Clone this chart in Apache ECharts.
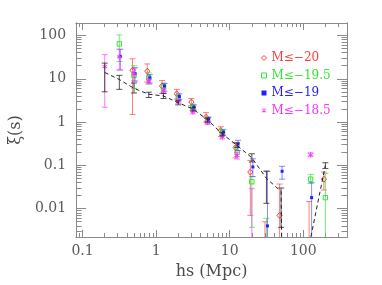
<!DOCTYPE html>
<html><head><meta charset="utf-8">
<script src="https://cdn.jsdelivr.net/npm/echarts@6/dist/echarts.min.js"></script>
<style>html,body{margin:0;padding:0;background:#fff}#c{width:382px;height:285px}</style>
</head><body><div id="c"></div>
<script>
// ---- data ----
const xBins = [0.2, 0.316, 0.5, 0.794, 1.26, 2.0, 3.16, 5.0, 7.94, 12.6, 20.0, 31.6, 50.0, 79.4, 126, 200];

const redVal = [null, null, 15.7, 15, 6.8, 4.5, 2.9, 1.3, 0.64, 0.26, 0.07, 0.0005, 0.007, null, 0.001, 0.048];
const redLo  = [null, null, 1.5, 8.4, 4.6, 3.4, 2.4, 1.0, 0.46, 0.148, 0.007, 0.0005, 0.0005, null, 0.001, 0.027];
const redHi  = [null, null, 29, 22, 9.1, 5.7, 3.5, 1.65, 0.78, 0.33, 0.13, 0.005, 0.037, null, 0.0146, 0.07];

const greenVal = [null, 64, 12, 10.5, 6.5, 3.6, 2.2, 1.1, 0.58, 0.2, 0.042, 0.0005, null, null, 0.048, 0.018];
const greenLo  = [null, 25, 6, 7.4, 5.0, 3.0, 1.9, 0.95, 0.5, 0.16, 0.0037, 0.0005, null, null, 0.038, 0.0005];
const greenHi  = [null, 103, 20, 13.7, 8.0, 4.3, 2.6, 1.3, 0.68, 0.27, 0.055, 0.006, null, null, 0.062, 0.065];

const blueVal = [null, 33, 13.2, 10.5, 6.8, 3.9, 2.2, 1.15, 0.58, 0.31, 0.092, 0.004, 0.073, null, 0.018, null];
const blueLo  = [null, 16, 8.8, 8, 5.2, 3.3, 1.9, 1.0, 0.5, 0.22, 0.055, 0.0005, 0.048, null, 0.0005, null];
const blueHi  = [null, 48, 18, 12.5, 7.8, 4.5, 2.5, 1.3, 0.66, 0.38, 0.142, 0.072, 0.095, null, 0.04, null];

const magVal = [19, 32, 13, 8.8, 5.2, 3.0, 1.72, 0.98, 0.45, 0.17, 0.0005, null, null, null, 0.176, null];
const magLo  = [2.2, 16, 9, 7.8, 4.6, 2.7, 1.55, 0.88, 0.41, 0.14, 0.0005, null, null, null, 0.158, null];
const magHi  = [36, 48, 17, 10, 5.8, 3.4, 1.9, 1.08, 0.5, 0.2, 0.029, null, null, null, 0.195, null];

const allVal = [14, 9.6, 6, 4.4, 4.0, 2.8, 2.0, 1.13, 0.53, 0.29, 0.15, 0.05, 0.025, 1e-30, 0.0021, 0.1];
const allLo  = [5, 5.7, 4.7, 3.7, 3.5, 2.5, 1.8, 1.0, 0.48, 0.26, 0.12, 0.0133, 0.0037, null, null, 0.085];
const allHi  = [23, 12, 8, 4.9, 4.6, 3.1, 2.2, 1.25, 0.58, 0.33, 0.185, 0.074, 0.03, null, null, 0.115];

const legendNames = ['M\u2264\u221220', 'M\u2264\u221219.5', 'M\u2264\u221219', 'M\u2264\u221218.5'];
const xTitle = 'hs (Mpc)';
const yTitle = '\u03BE(s)';

// ---- axis extents (log10 space) ----
const xLogMin = -1.0886, xLogMax = 2.595;
const yLogMin = -2.654, yLogMax = 2.288;

const FONT = 'DejaVu Serif';
const FRAME = '#8a8a8a';

function logTicks(lmin, lmax, major) {
  const out = [];
  for (let n = -4; n <= 3; n++) for (let k = 1; k <= 9; k++) {
    if (major !== (k === 1)) continue;
    const v = n + Math.log10(k);
    if (v >= lmin - 1e-9 && v <= lmax + 1e-9) out.push(v);
  }
  return out;
}
function fmtPow(v) {
  const r = Math.round(v);
  return r < 0 ? Math.pow(10, r).toFixed(-r) : String(Math.pow(10, r));
}
function overlay(pos, lmin, lmax, major, len, labels, extra) {
  const ax = {
    type: 'value', min: lmin, max: lmax, position: pos, gridIndex: 0, offset: 0,
    axisLine: { show: true, onZero: false, lineStyle: { color: FRAME, width: 1 } },
    axisTick: { show: true, inside: true, length: len, customValues: logTicks(lmin, lmax, major),
                lineStyle: { color: FRAME, width: 1 } },
    axisLabel: labels ? { show: true, customValues: logTicks(lmin, lmax, true), formatter: fmtPow,
                fontFamily: FONT, fontSize: 14, color: '#5a5a5a', margin: pos === 'left' ? 10 : 7 } : { show: false },
    splitLine: { show: false }, minorTick: { show: false }
  };
  return Object.assign(ax, extra || {});
}

function rows(val, lo, hi) {
  const d = [];
  xBins.forEach((x, i) => {
    if (val[i] == null) return;
    d.push([x, val[i], lo[i] == null ? val[i] : lo[i], hi[i] == null ? val[i] : hi[i]]);
  });
  return d;
}

function makeRender(marker, markColor, barColor, dx, capW) {
  return function (params, api) {
    const cs = params.coordSys;
    const top = cs.y, bot = cs.y + cs.height;
    const x = api.value(0);
    const p = api.coord([x, api.value(1)]);
    const yLo = api.coord([x, api.value(2)])[1];
    const yHi = api.coord([x, api.value(3)])[1];
    const px = p[0] + dx, py = p[1];
    const ch = [];
    const cl = y => Math.max(top, Math.min(bot, y));
    const ls = { stroke: barColor, lineWidth: 1 };
    if (yHi < bot && yLo > top && Math.abs(yLo - yHi) > 0.5) {
      ch.push({ type: 'line', shape: { x1: px, y1: cl(yHi), x2: px, y2: cl(yLo) }, style: ls });
      if (yHi >= top && yHi <= bot) ch.push({ type: 'line', shape: { x1: px - capW, y1: yHi, x2: px + capW, y2: yHi }, style: ls });
      if (yLo >= top && yLo <= bot) ch.push({ type: 'line', shape: { x1: px - capW, y1: yLo, x2: px + capW, y2: yLo }, style: ls });
    }
    if (py >= top && py <= bot) {
      if (marker === 'diamond') {
        ch.push({ type: 'polygon', shape: { points: [[px, py - 3], [px + 2.6, py], [px, py + 3], [px - 2.6, py]] },
                  style: { fill: 'none', stroke: markColor, lineWidth: 1 } });
      } else if (marker === 'open') {
        ch.push({ type: 'rect', shape: { x: px - 2.2, y: py - 2.2, width: 4.4, height: 4.4 },
                  style: { fill: 'none', stroke: markColor, lineWidth: 1 } });
      } else if (marker === 'filled') {
        ch.push({ type: 'rect', shape: { x: px - 1.5, y: py - 1.5, width: 3, height: 3 },
                  style: { fill: markColor } });
      } else if (marker === 'star') {
        const s = { stroke: markColor, lineWidth: 1 };
        ch.push({ type: 'line', shape: { x1: px, y1: py - 2.6, x2: px, y2: py + 2.6 }, style: s });
        ch.push({ type: 'line', shape: { x1: px - 2.3, y1: py - 1.3, x2: px + 2.3, y2: py + 1.3 }, style: s });
        ch.push({ type: 'line', shape: { x1: px - 2.3, y1: py + 1.3, x2: px + 2.3, y2: py - 1.3 }, style: s });
      }
    }
    return { type: 'group', children: ch };
  };
}

const RED = '#ff3b3b', GREEN = '#33e633', BLUE = '#2020ff', MAG = '#ff30ff';

const chart = echarts.init(document.getElementById('c'), null, { renderer: 'canvas' });
const grid = { left: 56, right: 35, top: 23, bottom: 46, containLabel: false };

const option = {
  animation: false,
  backgroundColor: '#fff',
  grid: grid,
  xAxis: [
    { type: 'log', logBase: 10, min: Math.pow(10, xLogMin), max: Math.pow(10, xLogMax), gridIndex: 0, show: false },
    overlay('bottom', xLogMin, xLogMax, true, 7, true,
      { name: xTitle, nameLocation: 'middle', nameGap: 27, nameTextStyle: { fontFamily: FONT, fontSize: 16, color: '#4a4a4a' } }),
    overlay('bottom', xLogMin, xLogMax, false, 4, false),
    overlay('top', xLogMin, xLogMax, true, 7, false),
    overlay('top', xLogMin, xLogMax, false, 4, false)
  ],
  yAxis: [
    { type: 'log', logBase: 10, min: Math.pow(10, yLogMin), max: Math.pow(10, yLogMax), gridIndex: 0, show: false },
    overlay('left', yLogMin, yLogMax, true, 10, true,
      { name: yTitle, nameLocation: 'middle', nameGap: 37, nameRotate: 90, nameTextStyle: { fontFamily: FONT, fontSize: 16, color: '#4a4a4a' } }),
    overlay('left', yLogMin, yLogMax, false, 5.5, false),
    overlay('right', yLogMin, yLogMax, true, 10, false),
    overlay('right', yLogMin, yLogMax, false, 5.5, false)
  ],
  legend: {
    orient: 'vertical', left: 256, top: 47, itemWidth: 5, itemHeight: 5, itemGap: 5.5,
    textStyle: { fontFamily: FONT, fontSize: 12 },
    selectedMode: false,
    data: [
      { name: legendNames[0], icon: 'diamond', itemStyle: { color: '#fff', borderColor: RED, borderWidth: 1 }, textStyle: { color: RED } },
      { name: legendNames[1], icon: 'rect', itemStyle: { color: '#fff', borderColor: GREEN, borderWidth: 1 }, textStyle: { color: GREEN } },
      { name: legendNames[2], icon: 'rect', itemStyle: { color: BLUE }, textStyle: { color: BLUE } },
      { name: legendNames[3], icon: 'path://M4.4,0L5.6,0L5.6,10L4.4,10Z M0.3,2.1L0.9,1.1L9.7,7.9L9.1,8.9Z M0.3,7.9L9.1,1.1L9.7,2.1L0.9,8.9Z',
        itemStyle: { color: MAG }, textStyle: { color: MAG } }
    ]
  },
  series: [
    { type: 'line', name: 'all', data: xBins.map((x, i) => [x, allVal[i]]), xAxisIndex: 0, yAxisIndex: 0,
      symbol: 'none', clip: true, silent: true, z: 4,
      lineStyle: { color: '#222', width: 1, type: [4, 3] } },
    { type: 'custom', name: 'allErr', data: rows(allVal, allLo, allHi), xAxisIndex: 0, yAxisIndex: 0, clip: true, z: 3,
      renderItem: makeRender('none', '#222', 'rgba(40,40,40,0.8)', 0, 3), itemStyle: { color: '#222' } },
    { type: 'custom', name: legendNames[0], data: rows(redVal, redLo, redHi), xAxisIndex: 0, yAxisIndex: 0, clip: true, z: 2,
      renderItem: makeRender('diamond', RED, 'rgba(255,70,70,0.7)', -1.5, 3), itemStyle: { color: RED } },
    { type: 'custom', name: legendNames[1], data: rows(greenVal, greenLo, greenHi), xAxisIndex: 0, yAxisIndex: 0, clip: true, z: 2,
      renderItem: makeRender('open', GREEN, 'rgba(60,225,60,0.7)', 0, 3), itemStyle: { color: GREEN } },
    { type: 'custom', name: legendNames[2], data: rows(blueVal, blueLo, blueHi), xAxisIndex: 0, yAxisIndex: 0, clip: true, z: 2,
      renderItem: makeRender('filled', BLUE, 'rgba(60,60,255,0.6)', 1, 3), itemStyle: { color: BLUE } },
    { type: 'custom', name: legendNames[3], data: rows(magVal, magLo, magHi), xAxisIndex: 0, yAxisIndex: 0, clip: true, z: 2,
      renderItem: makeRender('star', MAG, 'rgba(255,60,255,0.7)', 0, 3), itemStyle: { color: MAG } }
  ]
};
chart.setOption(option);
</script>
</body></html>
